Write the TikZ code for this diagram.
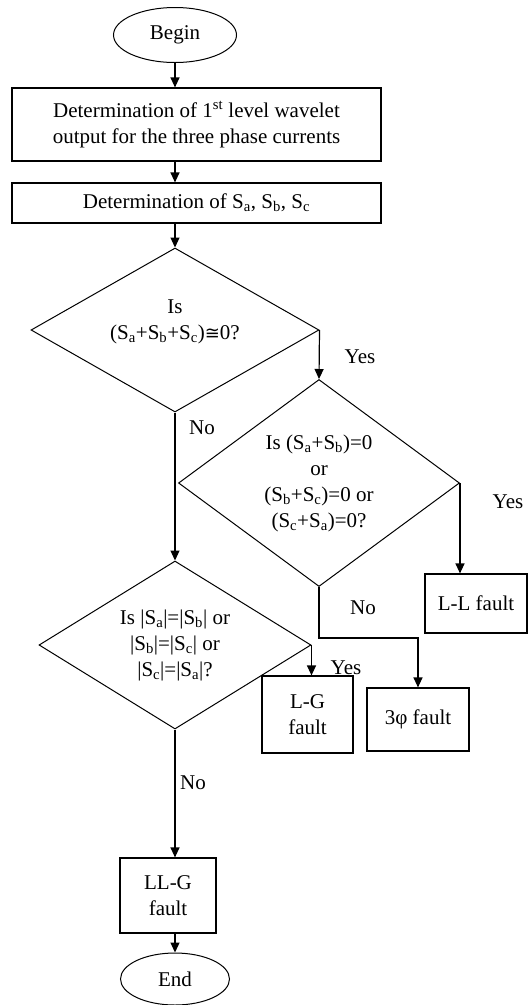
\documentclass[tikz,border=0pt]{standalone}
\usepackage{fontspec}
\setmainfont{Liberation Serif}
\newfontfamily\symfont{DejaVu Sans}
\usepackage{tikz}
\usetikzlibrary{shapes.geometric,arrows.meta,positioning,calc}

\begin{document}
\begin{tikzpicture}[x=1pt, y=-1pt,
    every node/.style={font=\fontsize{21}{26}\selectfont},
    box/.style={draw, line width=1.2pt, inner sep=0pt, align=center},
    decision/.style={draw, diamond, line width=1pt, inner sep=0pt, align=center},
    term/.style={draw, ellipse, line width=1pt, inner sep=0pt},
    arr/.style={-{Triangle[length=10pt,width=9pt]}, line width=1.2pt},
    lbl/.style={inner sep=0pt}]
  \useasboundingbox (0,0) rectangle (528,1005);
  \node[term, minimum width=123pt, minimum height=55pt] (begin) at (175,35) {Begin};
  \node[box, minimum width=369pt, minimum height=73pt] (wav) at (196.5,124.5) {Determination of 1\textsuperscript{st} level wavelet\\output for the three phase currents};
  \node[box, minimum width=369pt, minimum height=40pt] (sabc) at (196.5,203) {Determination of S\textsubscript{a}, S\textsubscript{b}, S\textsubscript{c}};
  \node[decision, aspect=1.76, minimum width=288pt, minimum height=164pt] (isum) at (175,330) {Is\\(S\textsubscript{a}+S\textsubscript{b}+S\textsubscript{c}){\symfont\fontsize{18}{26}\selectfont ≅}0?\\[-6pt]};
  \node[decision, aspect=1.36, minimum width=281pt, minimum height=207pt] (ipair) at (319,483) {Is (S\textsubscript{a}+S\textsubscript{b})=0\\or\\(S\textsubscript{b}+S\textsubscript{c})=0 or\\(S\textsubscript{c}+S\textsubscript{a})=0?};
  \node[decision, aspect=1.62, minimum width=272pt, minimum height=168pt] (imag) at (175,645) {Is |S\textsubscript{a}|=|S\textsubscript{b}| or\\|S\textsubscript{b}|=|S\textsubscript{c}| or\\|S\textsubscript{c}|=|S\textsubscript{a}|?};
  \node[box, minimum width=102pt, minimum height=59pt] (llf) at (476,603.5) {L-L fault};
  \node[box, minimum width=91pt, minimum height=77pt] (lgf) at (307.5,714.5) {L-G\\fault};
  \node[box, minimum width=102pt, minimum height=63pt] (tpf) at (418,719.5) {3φ fault};
  \node[box, minimum width=96pt, minimum height=75pt] (llgf) at (168,895.5) {LL-G\\fault};
  \node[term, minimum width=109pt, minimum height=52pt] (finish) at (175,979) {End};
  \coordinate (nojoin) at (418,638);

  \draw[arr] (begin.south) -- (begin.south |- wav.north);
  \draw[arr] (wav.south -| begin) -- (sabc.north -| begin);
  \draw[arr] (sabc.south -| isum) -- (isum.north);
  \draw[arr] (isum.east) -- (ipair.north);
  \draw[arr] (isum.south) -- (imag.north);
  \draw[arr] (ipair.east) -- (ipair.east |- llf.north);
  \draw[arr] (ipair.south) |- (nojoin) -- (tpf.north);
  \draw[arr] (imag.east) -- (imag.east |- lgf.north);
  \draw[arr] (imag.south) -- (imag.south |- llgf.north);
  \draw[arr] (llgf.south -| finish) -- (finish.north);

  \node[lbl] (yes1) at (360,357) {Yes};
  \node[lbl] (no1) at (202,428) {No};
  \node[lbl] (yes2) at (508,502) {Yes};
  \node[lbl] (no2) at (363,608) {No};
  \node[lbl] (yes3) at (346,668) {Yes};
  \node[lbl] (no3) at (193,783) {No};
\end{tikzpicture}
\end{document}
